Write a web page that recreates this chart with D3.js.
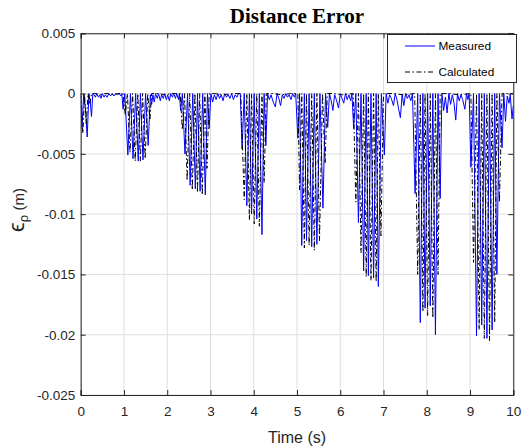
<!DOCTYPE html>
<html><head><meta charset="utf-8">
<script src="https://cdn.jsdelivr.net/npm/d3@7"></script>
<style>body{margin:0;background:#fff}</style>
</head><body><svg id="c" width="522" height="448"></svg>
<script>
const xTicks = [0,1,2,3,4,5,6,7,8,9,10];
const xTickLabels = ["0","1","2","3","4","5","6","7","8","9","10"];
const yTicks = [0.005,0,-0.005,-0.01,-0.015,-0.02,-0.025];
const yTickLabels = ["0.005","0","-0.005","-0.01","-0.015","-0.02","-0.025"];
const seriesNames = ["Measured","Calculated"];
const titleText = "Distance Error";
const xLabel = "Time (s)";

const measured = [
[0.00,-0.0002],[0.03,-0.0029],[0.07,0.0000],[0.11,-0.0013],[0.15,-0.0036],[0.19,0.0000],[0.22,-0.0007],[0.25,-0.0019],[0.28,0.0000],[0.31,-0.0001],[0.34,-0.0003],[0.37,0.0000],[0.41,-0.0003],[0.44,-0.0001],[0.47,-0.0004],[0.50,0.0000],[0.54,-0.0003],[0.57,-0.0001],[0.61,-0.0003],[0.65,0.0000],[0.69,-0.0002],[0.73,0.0000],[0.77,-0.0002],[0.81,0.0000],[0.85,-0.0001],[0.89,0.0000],[0.93,-0.0002],
[0.95,0.0000],[0.98,-0.0013],[1.02,0.0000],[1.09,-0.0051],[1.15,0.0000],[1.21,-0.0054],[1.27,0.0000],[1.33,-0.0056],[1.38,0.0000],[1.44,-0.0055],[1.50,0.0000],[1.56,-0.0043],[1.61,-0.0001],[1.64,-0.0009],[1.67,-0.0001],[1.70,-0.0007],[1.73,0.0000],
[1.77,-0.0004],[1.80,0.0000],[1.84,-0.0006],[1.87,-0.0001],[1.91,-0.0004],[1.94,0.0000],[1.98,-0.0005],[2.01,-0.0001],[2.05,-0.0006],[2.08,0.0000],[2.12,-0.0003],[2.15,0.0000],[2.19,-0.0004],[2.22,0.0000],[2.26,-0.0005],
[2.28,0.0000],[2.31,-0.0014],[2.35,0.0000],[2.41,-0.0050],[2.47,0.0000],[2.53,-0.0076],[2.59,0.0000],[2.65,-0.0079],[2.70,0.0000],[2.76,-0.0081],[2.82,0.0000],[2.88,-0.0084],[2.93,0.0000],[2.97,-0.0029],[3.01,0.0000],
[3.05,-0.0007],[3.09,-0.0001],[3.13,-0.0005],[3.17,0.0000],[3.21,-0.0004],[3.25,-0.0001],[3.29,-0.0006],[3.33,0.0000],[3.37,-0.0003],[3.41,-0.0001],[3.45,-0.0004],[3.49,0.0000],[3.53,-0.0005],[3.57,-0.0001],[3.61,-0.0003],[3.65,0.0000],
[3.69,0.0000],[3.73,-0.0046],[3.78,0.0000],[3.84,-0.0093],[3.90,0.0000],[3.95,-0.0100],[4.01,0.0000],[4.07,-0.0104],[4.13,0.0000],[4.19,-0.0117],[4.24,0.0000],[4.28,-0.0043],[4.32,0.0000],
[4.36,-0.0005],[4.40,-0.0001],[4.45,-0.0007],[4.50,-0.0011],[4.54,0.0000],[4.58,-0.0004],[4.62,-0.0010],[4.66,-0.0001],[4.70,-0.0004],[4.74,0.0000],[4.78,-0.0003],[4.82,-0.0001],[4.86,-0.0005],[4.90,0.0000],[4.94,-0.0003],[4.97,0.0000],
[5.02,-0.0037],[5.06,0.0000],[5.11,-0.0126],[5.17,0.0000],[5.22,-0.0122],[5.28,0.0000],[5.34,-0.0127],[5.40,0.0000],[5.46,-0.0125],[5.53,0.0000],[5.60,-0.0095],[5.66,0.0000],[5.71,-0.0028],[5.75,0.0000],
[5.79,-0.0006],[5.83,-0.0014],[5.87,-0.0001],[5.91,-0.0005],[5.96,-0.0012],[6.00,0.0000],[6.04,-0.0004],[6.08,-0.0008],[6.12,0.0000],[6.16,-0.0005],[6.20,-0.0001],[6.24,-0.0006],[6.27,0.0000],
[6.31,-0.0029],[6.36,0.0000],[6.42,-0.0107],[6.48,0.0000],[6.54,-0.0147],[6.60,0.0000],[6.65,-0.0151],[6.71,0.0000],[6.77,-0.0153],[6.83,0.0000],[6.88,-0.0160],[6.95,0.0000],[7.02,-0.0051],[7.06,0.0000],
[7.10,-0.0008],[7.14,-0.0001],[7.18,-0.0004],[7.23,-0.0010],[7.27,0.0000],[7.31,-0.0005],[7.35,-0.0013],[7.39,-0.0020],[7.43,-0.0001],[7.47,-0.0010],[7.51,0.0000],[7.55,-0.0004],[7.59,-0.0001],[7.63,-0.0006],[7.67,0.0000],
[7.73,-0.0083],[7.79,0.0000],[7.85,-0.0190],[7.91,0.0000],[7.96,-0.0178],[8.02,0.0000],[8.08,-0.0176],[8.14,0.0000],[8.20,-0.0200],[8.26,0.0000],[8.31,-0.0087],[8.35,0.0000],
[8.39,-0.0014],[8.43,-0.0003],[8.47,-0.0016],[8.51,0.0000],[8.55,-0.0009],[8.59,-0.0001],[8.63,-0.0008],[8.67,-0.0022],[8.71,0.0000],[8.75,-0.0006],[8.79,-0.0001],[8.83,-0.0005],[8.88,-0.0013],[8.92,0.0000],[8.95,-0.0005],[8.98,0.0000],
[9.02,-0.0061],[9.08,0.0000],[9.15,-0.0201],[9.21,0.0000],[9.27,-0.0192],[9.33,0.0000],[9.39,-0.0203],[9.45,0.0000],[9.51,-0.0196],[9.57,0.0000],[9.62,-0.0150],[9.68,0.0000],[9.74,-0.0045],[9.78,0.0000],
[9.82,-0.0023],[9.86,-0.0002],[9.90,-0.0008],[9.93,-0.0001],[9.97,-0.0021],[10.00,-0.0010]
];

const calculated = [
[0.00,0.0000],[0.05,-0.0033],[0.09,-0.0001],[0.13,-0.0025],[0.17,0.0000],[0.21,-0.0009],[0.25,0.0000],[0.35,0.0000],[0.45,-0.0001],[0.55,0.0000],[0.65,0.0000],[0.75,-0.0001],[0.85,0.0000],[0.98,0.0000],
[1.03,-0.0018],[1.08,0.0000],[1.14,-0.0049],[1.20,0.0000],[1.26,-0.0056],[1.32,0.0000],[1.38,-0.0056],[1.43,0.0000],[1.49,-0.0054],[1.55,0.0000],[1.60,-0.0022],[1.64,0.0000],[1.80,0.0000],[1.95,-0.0001],[2.10,0.0000],[2.30,0.0000],
[2.35,-0.0030],[2.40,0.0000],[2.46,-0.0072],[2.52,0.0000],[2.58,-0.0080],[2.64,0.0000],[2.70,-0.0082],[2.75,0.0000],[2.81,-0.0084],[2.87,0.0000],[2.92,-0.0062],[2.97,0.0000],[3.10,0.0000],[3.30,-0.0001],[3.50,0.0000],[3.70,0.0000],
[3.78,-0.0088],[3.84,0.0000],[3.90,-0.0105],[3.95,0.0000],[4.01,-0.0108],[4.07,0.0000],[4.13,-0.0110],[4.19,0.0000],[4.24,-0.0074],[4.29,0.0000],[4.45,0.0000],[4.65,-0.0001],[4.85,0.0000],[5.02,0.0000],
[5.06,-0.0080],[5.11,0.0000],[5.17,-0.0128],[5.22,0.0000],[5.28,-0.0126],[5.34,0.0000],[5.40,-0.0130],[5.46,0.0000],[5.52,-0.0122],[5.59,0.0000],[5.65,-0.0058],[5.70,0.0000],[5.85,0.0000],[6.05,-0.0001],[6.30,0.0000],
[6.36,-0.0090],[6.42,0.0000],[6.48,-0.0132],[6.54,0.0000],[6.60,-0.0152],[6.65,0.0000],[6.71,-0.0155],[6.77,0.0000],[6.83,-0.0156],[6.88,0.0000],[6.94,-0.0118],[7.00,0.0000],[7.20,0.0000],[7.45,-0.0001],[7.72,0.0000],
[7.79,-0.0150],[7.85,0.0000],[7.91,-0.0181],[7.96,0.0000],[8.02,-0.0184],[8.08,0.0000],[8.14,-0.0186],[8.20,0.0000],[8.26,-0.0150],[8.31,0.0000],[8.50,0.0000],[8.75,-0.0001],[9.02,0.0000],
[9.08,-0.0140],[9.15,0.0000],[9.21,-0.0196],[9.27,0.0000],[9.33,-0.0203],[9.39,0.0000],[9.45,-0.0205],[9.51,0.0000],[9.57,-0.0190],[9.62,0.0000],[9.68,-0.0090],[9.74,0.0000],[9.85,0.0000],[10.00,0.0000]
];

const svg = d3.select("#c");
const m = {l:80.7, r:513.3, t:33.3, b:395};
const x = d3.scaleLinear().domain([0,10]).range([m.l, m.r]);
const y = d3.scaleLinear().domain([-0.025,0.005]).range([m.b, m.t]);
const axisColor = "#262626";
const font = "'Liberation Sans', Arial, Helvetica, sans-serif";

svg.append("rect").attr("width",522).attr("height",448).attr("fill","#fff");

// grid
const grid = svg.append("g").attr("stroke","#dfdfdf").attr("stroke-width",1);
grid.selectAll(".gx").data(xTicks).join("line")
  .attr("x1",d=>x(d)).attr("x2",d=>x(d)).attr("y1",m.t).attr("y2",m.b);
grid.selectAll(".gy").data(yTicks).join("line")
  .attr("x1",m.l).attr("x2",m.r).attr("y1",d=>y(d)).attr("y2",d=>y(d));

// clip
svg.append("clipPath").attr("id","pc").append("rect")
  .attr("x",m.l).attr("y",m.t).attr("width",m.r-m.l).attr("height",m.b-m.t);

const line = d3.line().x(d=>x(d[0])).y(d=>y(d[1]));
const plot = svg.append("g").attr("clip-path","url(#pc)");
plot.append("path").datum(measured).attr("d",line)
  .attr("fill","none").attr("stroke","#0000ff").attr("stroke-width",1);
plot.append("path").datum(calculated).attr("d",line)
  .attr("fill","none").attr("stroke","#000").attr("stroke-width",1)
  .attr("stroke-dasharray","5,2.5,1.5,2.5");

// axes
const gx = svg.append("g").attr("transform",`translate(0,${m.b})`)
  .call(d3.axisBottom(x).tickValues(xTicks).tickFormat((d,i)=>xTickLabels[i]).tickSize(-5).tickPadding(11));
const gxt = svg.append("g").attr("transform",`translate(0,${m.t})`)
  .call(d3.axisTop(x).tickValues(xTicks).tickFormat("").tickSize(-5));
const gy = svg.append("g").attr("transform",`translate(${m.l},0)`)
  .call(d3.axisLeft(y).tickValues(yTicks).tickFormat((d,i)=>yTickLabels[i]).tickSize(-5).tickPadding(5.5));
const gyr = svg.append("g").attr("transform",`translate(${m.r},0)`)
  .call(d3.axisRight(y).tickValues(yTicks).tickFormat("").tickSize(-5));
[gx,gxt,gy,gyr].forEach(g=>{
  g.select(".domain").attr("stroke",axisColor).attr("stroke-width",1);
  g.selectAll(".tick line").attr("stroke",axisColor);
  g.selectAll(".tick text").attr("fill",axisColor).style("font-family",font).style("font-size","13.5px");
});

// title
svg.append("text").attr("x",(m.l+m.r)/2).attr("y",23).attr("text-anchor","middle")
  .style("font-family","'Liberation Serif','Times New Roman',serif").style("font-weight","bold")
  .style("font-size","21px").attr("fill","#000").text(titleText);

// x label
svg.append("text").attr("x",(m.l+m.r)/2).attr("y",443).attr("text-anchor","middle")
  .style("font-family",font).style("font-size","16px").attr("fill",axisColor).text(xLabel);

// y label
const yl = svg.append("text").attr("transform","translate(24,210) rotate(-90)")
  .attr("text-anchor","middle").attr("fill",axisColor).style("font-family",font);
yl.append("tspan").style("font-size","22px").text("\u03F5");
yl.append("tspan").style("font-size","13px").attr("dy",4).text("\u03C1");
yl.append("tspan").style("font-size","15px").attr("dy",-4).text(" (m)");

// legend
const lg = svg.append("g");
lg.append("rect").attr("x",387.5).attr("y",34.5).attr("width",129).attr("height",48)
  .attr("fill","#fff").attr("stroke",axisColor).attr("stroke-width",1);
const legY = [46, 72];
const legStyles = [{c:"#0000ff",dash:null},{c:"#000",dash:"5,2.5,1.5,2.5"}];
seriesNames.forEach((n,i)=>{
  lg.append("line").attr("x1",405).attr("x2",435).attr("y1",legY[i]).attr("y2",legY[i])
    .attr("stroke",legStyles[i].c).attr("stroke-width",1).attr("stroke-dasharray",legStyles[i].dash);
  lg.append("text").attr("x",438.5).attr("y",legY[i]).attr("dy","0.35em")
    .style("font-family",font).style("font-size","11.8px").attr("fill","#000").text(n);
});
</script></body></html>
